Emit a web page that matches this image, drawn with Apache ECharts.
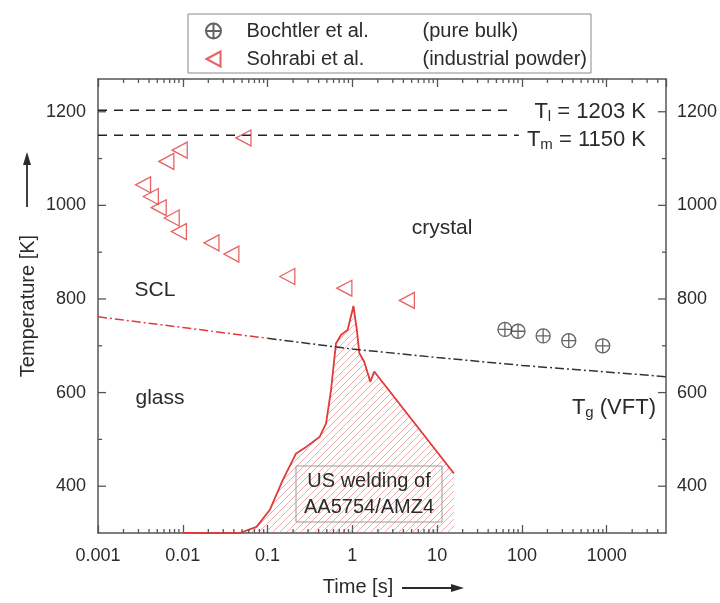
<!DOCTYPE html>
<html>
<head>
<meta charset="utf-8">
<script src="https://cdn.jsdelivr.net/npm/echarts@6/dist/echarts.min.js"></script>
<style>
  html, body { margin: 0; padding: 0; background: #fff; }
  #chart { width: 720px; height: 603px; }
</style>
</head>
<body>
<div id="chart"></div>
<script>
const FONT = '"Liberation Sans", Arial, Helvetica, sans-serif';
const INK = '#2b2b2b';
const AXIS = '#555';
const RED = '#e2393b';

// Axis extents
const X_MIN = 0.001, X_MAX = 5000;
const Y_MIN = 300, Y_MAX = 1270;

// Bochtler et al. (pure bulk)
const bochtlerTime = [63, 90, 178, 357, 898];
const bochtlerTemp = [735, 731, 721, 711, 700];

// Sohrabi et al. (industrial powder)
const sohrabiTime = [0.0034, 0.0042, 0.0052, 0.0074, 0.0090, 0.0064, 0.0092, 0.052, 0.0218, 0.0374, 0.171, 0.805, 4.4];
const sohrabiTemp = [1044, 1019, 995, 973, 944, 1094, 1118, 1144, 920, 896, 848, 823, 797];

// Glass transition (VFT), short-time part and long-time part
const tgShortTime = [0.001, 0.01, 0.1];
const tgShortTemp = [762, 739, 716];
const tgLongTime = [0.1, 1, 10, 100, 1000, 5000];
const tgLongTemp = [716, 693, 675, 658, 644, 634];

// Temperature history of ultrasonic welding
const weldTime = [0.01, 0.047, 0.074, 0.106, 0.151, 0.217, 0.285, 0.41, 0.49, 0.56, 0.641, 0.734, 0.88, 1.03, 1.13, 1.21, 1.38, 1.63, 1.81, 15.8];
const weldTemp = [300, 300, 313, 349, 413, 470, 484, 505, 534, 605, 705, 723, 734, 785, 734, 684, 666, 623, 645, 427];

// Liquidus / melting temperatures; the dashed lines stop short of their labels
const T_LIQUIDUS = 1203, T_MELT = 1150;
const liquidusLineEnd = 75;
const meltLineEnd = 92;

// Tick positions
const xLabelTicks = [0.001, 0.01, 0.1, 1, 10, 100, 1000];
const xMinorTicks = [];
for (let e = -3; e <= 3; e++) {
  for (let m = 2; m <= 9; m++) {
    const v = +(m * Math.pow(10, e)).toPrecision(3);
    if (v < X_MAX) xMinorTicks.push(v);
  }
}
const yMajorTicks = [400, 600, 800, 1000, 1200];
const yMinorTicks = [500, 700, 900, 1100];

const legendNotes = {
  'Bochtler et al.': '(pure bulk)',
  'Sohrabi et al.': '(industrial powder)'
};

const zip = (a, b) => a.map((v, i) => [v, b[i]]);

// Diagonal hatch pattern for the welding area
function hatchPattern() {
  const s = 7;
  const c = document.createElement('canvas');
  c.width = s; c.height = s;
  const g = c.getContext('2d');
  g.strokeStyle = 'rgba(232, 100, 100, 0.55)';
  g.lineWidth = 1;
  g.beginPath();
  g.moveTo(0, s); g.lineTo(s, 0);
  g.moveTo(-1, 1); g.lineTo(1, -1);
  g.moveTo(s - 1, s + 1); g.lineTo(s + 1, s - 1);
  g.stroke();
  return { image: c, repeat: 'repeat' };
}

const crossCircle = 'path://M2,12 A10,10 0 1,1 22,12 A10,10 0 1,1 2,12 Z M12,2 L12,22 M2,12 L22,12';
const leftTriangle = 'path://M0,8 L15,0 L15,16 Z';

const chart = echarts.init(document.getElementById('chart'), null, { renderer: 'canvas' });

const yLabel = v => (yMajorTicks.indexOf(v) >= 0 ? String(v) : '');

const option = {
  animation: false,
  backgroundColor: '#fff',
  textStyle: { fontFamily: FONT },
  grid: { left: 98, right: 53, top: 79, bottom: 70, containLabel: false },
  legend: {
    orient: 'vertical',
    left: 188, top: 14,
    padding: [7, 4, 4, 17],
    itemGap: 8,
    itemWidth: 16, itemHeight: 15,
    borderColor: '#8a8a8a', borderWidth: 1, borderRadius: 0,
    data: ['Bochtler et al.', 'Sohrabi et al.'],
    formatter: name => '{s|}{a|' + name + '}{b|' + legendNotes[name] + '}',
    textStyle: {
      fontFamily: FONT, fontSize: 20, color: INK,
      rich: {
        s: { width: 20 },
        a: { width: 176, fontSize: 20, fontFamily: FONT, color: INK },
        b: { fontSize: 20, fontFamily: FONT, color: INK }
      }
    }
  },
  xAxis: [
    {
      type: 'log', logBase: 10, min: X_MIN, max: X_MAX, position: 'bottom',
      axisLine: { show: true, onZero: false, lineStyle: { color: AXIS, width: 1.5 } },
      axisTick: { show: true, inside: true, length: 8, lineStyle: { color: AXIS, width: 1.3 } },
      axisLabel: {
        show: true, margin: 14, fontSize: 18, color: INK, fontFamily: FONT,
        showMaxLabel: false,
        formatter: v => (xLabelTicks.indexOf(+(+v).toPrecision(3)) >= 0 ? String(+(+v).toPrecision(3)) : '')
      },
      splitLine: { show: false }
    },
    {
      type: 'log', logBase: 10, min: X_MIN, max: X_MAX, position: 'top',
      axisLine: { show: true, onZero: false, lineStyle: { color: AXIS, width: 1.5 } },
      axisTick: { show: true, inside: true, length: 8, lineStyle: { color: AXIS, width: 1.3 } },
      axisLabel: { show: false },
      splitLine: { show: false }
    }
  ],
  yAxis: [
    {
      type: 'value', min: Y_MIN, max: Y_MAX, interval: 100, position: 'left',
      axisLine: { show: true, onZero: false, lineStyle: { color: AXIS, width: 1.5 } },
      axisTick: { show: false },
      axisLabel: { show: true, margin: 12, fontSize: 18, color: INK, fontFamily: FONT, formatter: yLabel, showMaxLabel: false },
      splitLine: { show: false }
    },
    {
      type: 'value', min: Y_MIN, max: Y_MAX, interval: 100, position: 'right',
      axisLine: { show: true, onZero: false, lineStyle: { color: AXIS, width: 1.5 } },
      axisTick: { show: false },
      axisLabel: { show: true, margin: 11, fontSize: 18, color: INK, fontFamily: FONT, formatter: yLabel, showMaxLabel: false },
      splitLine: { show: false }
    }
  ],
  series: [
    {
      name: 'US welding',
      type: 'line',
      data: zip(weldTime, weldTemp),
      showSymbol: false, symbol: 'none',
      lineStyle: { color: RED, width: 1.8 },
      areaStyle: { origin: 'start', color: hatchPattern(), opacity: 1 },
      z: 2
    },
    {
      name: 'Tg short',
      type: 'line',
      data: zip(tgShortTime, tgShortTemp),
      symbol: 'none',
      lineStyle: { color: RED, width: 1.5, type: [9, 3, 2, 3] },
      z: 3
    },
    {
      name: 'Tg long',
      type: 'line',
      data: zip(tgLongTime, tgLongTemp),
      symbol: 'none',
      lineStyle: { color: '#333', width: 1.5, type: [9, 3, 2, 3] },
      z: 3
    },
    {
      name: 'T liquidus',
      type: 'line',
      data: [[X_MIN, T_LIQUIDUS], [liquidusLineEnd, T_LIQUIDUS]],
      symbol: 'none',
      lineStyle: { color: '#222', width: 1.5, type: [9, 7] },
      z: 3
    },
    {
      name: 'T melt',
      type: 'line',
      data: [[X_MIN, T_MELT], [meltLineEnd, T_MELT]],
      symbol: 'none',
      lineStyle: { color: '#222', width: 1.5, type: [9, 7] },
      z: 3
    },
    {
      name: 'Bochtler et al.',
      type: 'scatter',
      data: zip(bochtlerTime, bochtlerTemp),
      symbol: crossCircle,
      symbolSize: 14,
      itemStyle: { color: 'rgba(255,255,255,0)', borderColor: '#3c3c3c', borderWidth: 1.3 },
      z: 5
    },
    {
      name: 'Sohrabi et al.',
      type: 'scatter',
      data: zip(sohrabiTime, sohrabiTemp),
      symbol: leftTriangle,
      symbolSize: [15, 16],
      itemStyle: { color: 'rgba(255,255,255,0)', borderColor: RED, borderWidth: 1.3 },
      z: 5
    },
    {
      // minor ticks on all four sides, longer major ticks on the temperature axes
      name: 'ticks',
      type: 'custom',
      silent: true,
      clip: false,
      data: [[1, 500]],
      z: 6,
      renderItem: (params, api) => {
        const children = [];
        const stroke = { stroke: AXIS, lineWidth: 1.3 };
        const bottomY = api.coord([1, Y_MIN])[1];
        const topY = api.coord([1, Y_MAX])[1];
        const leftX = api.coord([X_MIN, 500])[0];
        const rightX = api.coord([X_MAX, 500])[0];
        xMinorTicks.forEach(v => {
          const x = api.coord([v, Y_MIN])[0];
          children.push({ type: 'line', shape: { x1: x, y1: bottomY, x2: x, y2: bottomY - 4 }, style: stroke });
          children.push({ type: 'line', shape: { x1: x, y1: topY, x2: x, y2: topY + 4 }, style: stroke });
        });
        const yTick = (v, len) => {
          const y = api.coord([1, v])[1];
          children.push({ type: 'line', shape: { x1: leftX, y1: y, x2: leftX + len, y2: y }, style: stroke });
          children.push({ type: 'line', shape: { x1: rightX, y1: y, x2: rightX - len, y2: y }, style: stroke });
        };
        yMajorTicks.forEach(v => yTick(v, 8));
        yMinorTicks.forEach(v => yTick(v, 4));
        return { type: 'group', children };
      }
    }
  ],
  graphic: [
    // axis titles with arrows
    {
      type: 'text', x: 28, y: 306, rotation: Math.PI / 2,
      style: { text: 'Temperature [K]', font: '20px ' + FONT, fill: INK, align: 'center', verticalAlign: 'middle' }
    },
    {
      type: 'line', shape: { x1: 27, y1: 207, x2: 27, y2: 162 },
      style: { stroke: INK, lineWidth: 1.8 }
    },
    {
      type: 'polygon', shape: { points: [[27, 152], [23, 165], [31, 165]] },
      style: { fill: INK }
    },
    {
      type: 'text', x: 358, y: 587,
      style: { text: 'Time [s]', font: '20px ' + FONT, fill: INK, align: 'center', verticalAlign: 'middle' }
    },
    {
      type: 'line', shape: { x1: 402, y1: 588, x2: 452, y2: 588 },
      style: { stroke: INK, lineWidth: 1.8 }
    },
    {
      type: 'polygon', shape: { points: [[464, 588], [451, 584], [451, 592]] },
      style: { fill: INK }
    },
    // region labels
    { type: 'text', x: 442, y: 228, style: { text: 'crystal', font: '21px ' + FONT, fill: INK, align: 'center', verticalAlign: 'middle' } },
    { type: 'text', x: 155, y: 290, style: { text: 'SCL', font: '21px ' + FONT, fill: INK, align: 'center', verticalAlign: 'middle' } },
    { type: 'text', x: 160, y: 398, style: { text: 'glass', font: '21px ' + FONT, fill: INK, align: 'center', verticalAlign: 'middle' } },
    {
      type: 'text', x: 646, y: 112,
      style: {
        text: '{t|T}{s|l}{t| = 1203 K}', align: 'right', verticalAlign: 'middle',
        rich: {
          t: { font: '22px ' + FONT, fill: INK, lineHeight: 26 },
          s: { font: '15px ' + FONT, fill: INK, lineHeight: 26, padding: [10, 0, 0, 0] }
        }
      }
    },
    {
      type: 'text', x: 646, y: 140,
      style: {
        text: '{t|T}{s|m}{t| = 1150 K}', align: 'right', verticalAlign: 'middle',
        rich: {
          t: { font: '22px ' + FONT, fill: INK, lineHeight: 26 },
          s: { font: '15px ' + FONT, fill: INK, lineHeight: 26, padding: [10, 0, 0, 0] }
        }
      }
    },
    {
      type: 'text', x: 656, y: 408,
      style: {
        text: '{t|T}{s|g}{t| (VFT)}', align: 'right', verticalAlign: 'middle',
        rich: {
          t: { font: '22px ' + FONT, fill: INK, lineHeight: 26 },
          s: { font: '15px ' + FONT, fill: INK, lineHeight: 26, padding: [10, 0, 0, 0] }
        }
      }
    },
    // welding annotation box
    {
      type: 'rect', shape: { x: 296, y: 466, width: 146, height: 56 },
      style: { fill: 'none', stroke: '#9a9a9a', lineWidth: 1 }, z: 10
    },
    {
      type: 'text', x: 369, y: 494, z: 11,
      style: { text: 'US welding of\nAA5754/AMZ4', font: '20px ' + FONT, fill: INK, align: 'center', verticalAlign: 'middle', lineHeight: 26 }
    }
  ]
};

chart.setOption(option);
</script>
</body>
</html>
